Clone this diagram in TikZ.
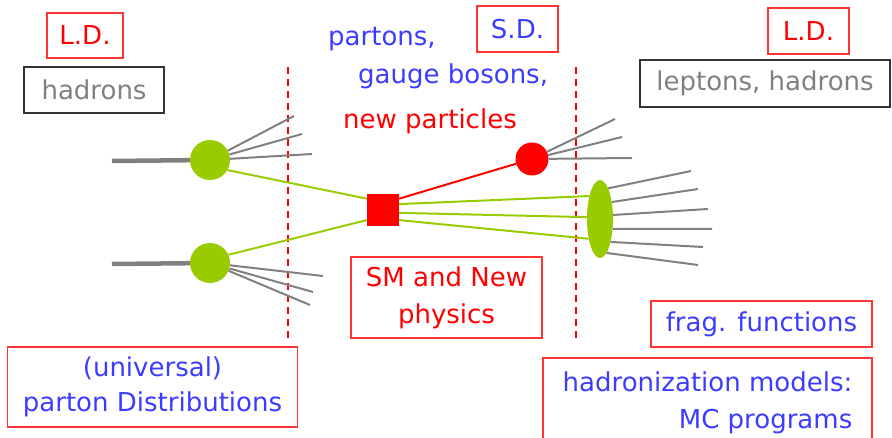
\documentclass[tikz,border=0pt]{standalone}
\usepackage{fontspec}
\setmainfont{DejaVu Sans}
\usetikzlibrary{shapes.geometric}
\definecolor{ldred}{RGB}{255,0,0}
\definecolor{frame}{RGB}{255,51,51}
\definecolor{txtblue}{RGB}{60,60,255}
\definecolor{txtgray}{RGB}{128,128,128}
\definecolor{leaf}{RGB}{153,204,0}
\definecolor{spraygray}{RGB}{128,128,128}

\begin{document}
\begin{tikzpicture}[x=1pt,y=-1pt,font=\fontsize{26}{37}\selectfont,
  rbx/.style={draw=frame,line width=1.3pt,inner sep=0pt,align=center},
  kbx/.style={draw=black!80,line width=1.3pt,inner sep=0pt,text=txtgray},
  lbl/.style={inner sep=0pt,anchor=base west},
  blob/.style={circle,fill=leaf,inner sep=0pt,minimum size=40pt},
  spray/.style={draw=spraygray,line width=2pt},
  feed/.style={draw=spraygray,line width=4.5pt},
  glu/.style={draw=leaf,line width=2pt},
  cut/.style={draw=ldred,line width=1.5pt,dash pattern=on 7pt off 5pt}]
  \useasboundingbox (0,0) rectangle (892,438);
  % labels and boxes
  \node[rbx,text=ldred,minimum width=76pt,minimum height=45pt] (ldA) at (85,35.5) {L.D.};
  \node[kbx,minimum width=140pt,minimum height=46pt] (hadA) at (94,90) {hadrons};
  \node[rbx,text=txtblue,minimum width=81pt,minimum height=46pt] (sd) at (517.5,29) {S.D.};
  \node[rbx,text=ldred,minimum width=81pt,minimum height=46pt] (ldB) at (808.5,31) {L.D.};
  \node[kbx,minimum width=250pt,minimum height=47pt] (hadB) at (765,83.5) {leptons, hadrons};
  \node[lbl,text=txtblue] (prt) at (328,46) {partons,};
  \node[lbl,text=txtblue] (gb) at (358,84) {gauge bosons,};
  \node[lbl,text=ldred] (np) at (343,129) {new particles};
  \node[rbx,text=ldred,minimum width=191pt,minimum height=81pt] (sm) at (446.5,297.5) {SM and New\\physics};
  \node[rbx,text=txtblue,font=\fontsize{26}{35}\selectfont,minimum width=290pt,minimum height=80pt] (pdf) at (152.5,387) {(universal)\\parton Distributions};
  \node[rbx,text=txtblue,minimum width=221pt,minimum height=46pt] (frag) at (761.5,324) {frag. functions};
  \node[rbx,text=txtblue,align=right,minimum width=329pt,minimum height=90pt] (mc) at (707.5,403) {hadronization models:\\MC programs};
  % cuts
  \draw[cut] (288,67) -- (288,338);
  \draw[cut] (576,67) -- (576,338);
  % blobs
  \node[blob] (bA) at (210,160) {};
  \node[blob] (bB) at (210,263) {};
  \node[fill=ldred,minimum size=32pt,inner sep=0pt] (sq) at (383,210) {};
  \node[circle,fill=ldred,minimum size=33pt,inner sep=0pt] (rc) at (532,159) {};
  \node[ellipse,fill=leaf,minimum width=26pt,minimum height=78pt,inner sep=0pt] (el) at (600,219) {};
  \coordinate (inA) at (112,161);
  \coordinate (inB) at (112,264);
  \draw[feed] (inA) -- (bA);
  \draw[feed] (inB) -- (bB);
  \foreach \ex/\ey [count=\i] in {294/116,302/134,312/154} {\coordinate (a\i) at (\ex,\ey); \draw[spray] (bA) -- (a\i);}
  \foreach \ex/\ey [count=\i] in {323/276,313/292,310/305} {\coordinate (b\i) at (\ex,\ey); \draw[spray] (bB) -- (b\i);}
  \foreach \ex/\ey [count=\i] in {615/119,622/137,632/158} {\coordinate (r\i) at (\ex,\ey); \draw[spray] (rc) -- (r\i);}
  \foreach \a/\ex/\ey [count=\i] in {75/691/171,55/698/189,17/708/209,-38/712/229,-65/703/247,-79/698/265} {\coordinate (e\i) at (\ex,\ey); \draw[spray] (el.\a) -- (e\i);}
  \draw[glu] (bA.-30) -- (sq.145);
  \draw[glu] (bB.24) -- (sq.212);
  \draw[glu] (sq.20) -- (el.115);
  \draw[glu] (sq.-10) -- (el.172);
  \draw[glu] (sq.-32) -- (el.240);
  \draw[ldred,line width=2pt] (sq.35) -- (rc);
\end{tikzpicture}
\end{document}
